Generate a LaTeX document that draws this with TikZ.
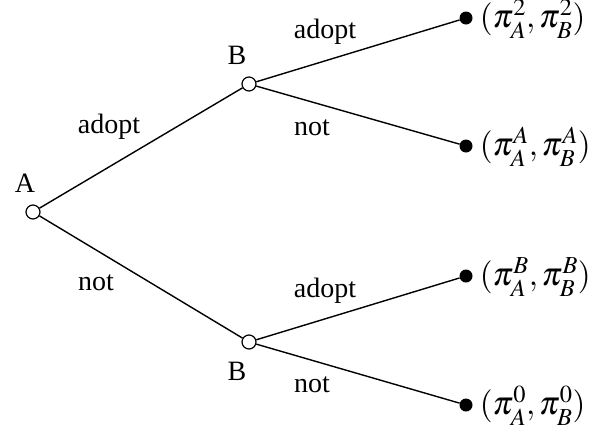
\documentclass[tikz,border=0pt]{standalone}
\usepackage{mathptmx}
\usepackage{fontspec}
\setmainfont{Liberation Serif}
\newcommand{\payoff}[1]{$\fontdimen13\textfont2=17pt\fontdimen17\textfont2=10.5pt(\pi_A^{#1},\pi_B^{#1})$}
\begin{document}
\begin{tikzpicture}[x=1pt,y=-1pt,
  font=\fontsize{28}{34}\selectfont,
  opennode/.style={circle,draw,fill=white,line width=1.2pt,minimum size=14pt,inner sep=0pt},
  leaf/.style={circle,fill=black,minimum size=13pt,inner sep=0pt},
  lbl/.style={inner sep=0pt},
  pay/.style={anchor=west,inner sep=0pt,font=\fontsize{33}{40}\selectfont},
  edge/.style={line width=1.4pt}]
\useasboundingbox (0,0) rectangle (592,432);
\node[opennode] (a) at (33,212) {};
\node[opennode] (b1) at (249,84) {};
\node[opennode] (b2) at (249,342) {};
\node[leaf] (t1) at (466,18) {};
\node[leaf] (t2) at (466,146) {};
\node[leaf] (t3) at (466,276) {};
\node[leaf] (t4) at (466,405) {};
\draw[edge] (a) -- (b1);
\draw[edge] (a) -- (b2);
\draw[edge] (b1) -- (t1);
\draw[edge] (b1) -- (t2);
\draw[edge] (b2) -- (t3);
\draw[edge] (b2) -- (t4);
\node[lbl] (la) at (25,183) {A};
\node[lbl] (lb1) at (237,55) {B};
\node[lbl] (lb2) at (237,371) {B};
\node[lbl] (e1) at (109,127) {adopt};
\node[lbl] (e2) at (96,283) {not};
\node[lbl] (e3) at (325,32) {adopt};
\node[lbl] (e4) at (312,128) {not};
\node[lbl] (e5) at (325,291) {adopt};
\node[lbl] (e6) at (312,385) {not};
\node[pay] (p1) at ([xshift=7pt,yshift=-1pt]t1.east) {\payoff{2}};
\node[pay] (p2) at ([xshift=7pt,yshift=-1pt]t2.east) {\payoff{A}};
\node[pay] (p3) at ([xshift=7pt,yshift=-1pt]t3.east) {\payoff{B}};
\node[pay] (p4) at ([xshift=7pt,yshift=-1pt]t4.east) {\payoff{0}};
\end{tikzpicture}
\end{document}
